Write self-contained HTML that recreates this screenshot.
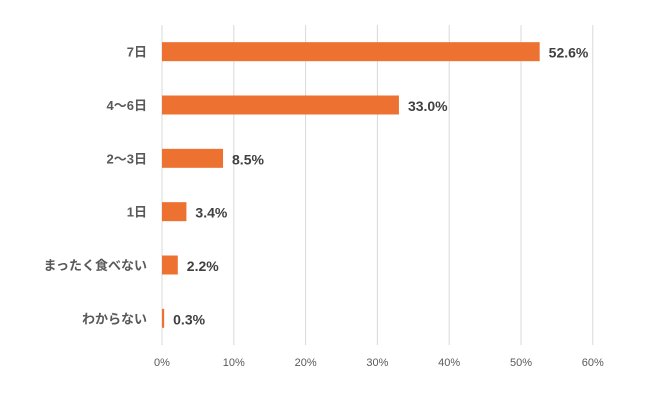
<!DOCTYPE html>
<html><head><meta charset="utf-8"><style>
body{margin:0;background:#fff}
svg{display:block;font-family:"Liberation Sans","Noto Sans CJK JP",sans-serif}
</style></head><body>
<svg id="c" width="658" height="404" viewBox="0 0 658 404"></svg>
<script>
const categories=["7日","4〜6日","2〜3日","1日","まったく食べない","わからない"];
const values=[52.6,33.0,8.5,3.4,2.2,0.3];
const ticks=[0,10,20,30,40,50,60];
const svgEl=document.getElementById('c');
const NS='http://www.w3.org/2000/svg';
const x0=162,pxPer=7.18,plotTop=25,plotBottom=345,band=(plotBottom-plotTop)/categories.length,bh=19;
const xs=v=>x0+v*pxPer;
const yc=i=>plotTop+band*(i+0.5);
function mk(t,a){const e=document.createElementNS(NS,t);for(const k in a)e.setAttribute(k,a[k]);svgEl.appendChild(e);return e;}
ticks.forEach(t=>{
 const l=mk('line',{x1:xs(t),x2:xs(t),y1:plotTop,y2:plotBottom,stroke:'#d9d9d9','stroke-width':1});
 
 
 const tx=mk('text',{x:xs(t),y:366,'text-anchor':'middle','font-size':11,fill:'#595959'});
 tx.textContent=t+'%';
 
 
});
categories.forEach((c,i)=>{
 const y=yc(i);
 const lb=mk('text',{x:147,y:y+5,'text-anchor':'end','font-size':13,'font-weight':'bold',fill:'#595959'});
 lb.textContent=c;
 
 
 const r=mk('rect',{x:x0,y:y-bh/2,width:Math.max(values[i]*pxPer,2),height:bh,fill:'#ed7232'});
 
 
 const v=mk('text',{x:xs(values[i])+9,y:y+6,'font-size':14,'font-weight':'bold',fill:'#404040'});
 v.textContent=values[i].toFixed(1)+'%';
 
 
});
</script>
</body></html>
